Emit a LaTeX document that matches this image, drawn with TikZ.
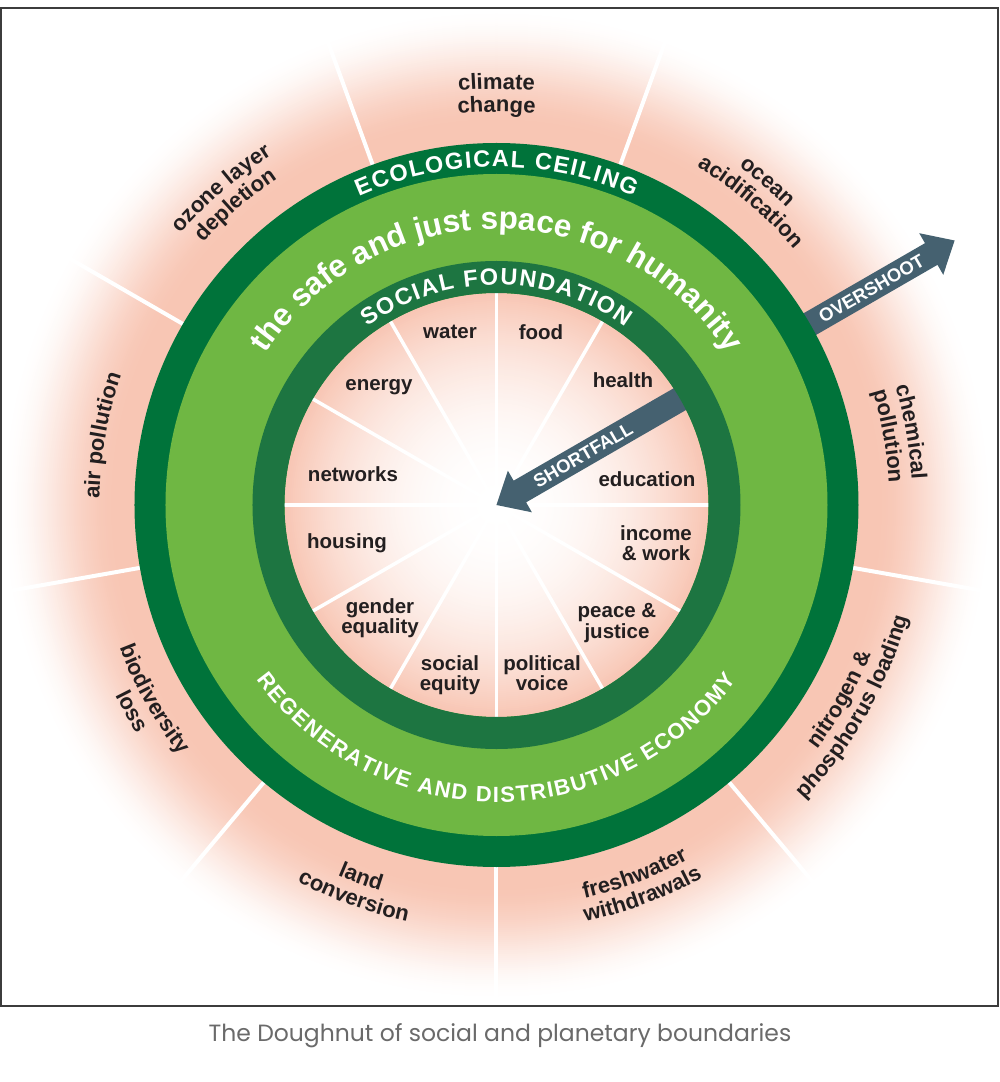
\documentclass[tikz,border=0pt]{standalone}
\usepackage{fontspec}
\setmainfont{Liberation Sans}
\newfontfamily\capfamily{Poppins}
\usetikzlibrary{decorations.text}
\definecolor{darkg}{HTML}{00733A}
\definecolor{lightg}{HTML}{6FB743}
\definecolor{socg}{HTML}{1D7541}
\definecolor{pinkc}{HTML}{F8C6B4}
\definecolor{arrowc}{HTML}{456170}
\definecolor{txtc}{HTML}{231F20}
\definecolor{capc}{HTML}{6A6A6A}
\definecolor{framec}{HTML}{3C3C3C}
\newcommand\olfont{\fontsize{22}{22}\selectfont\bfseries}
\newcommand\ilfont{\fontsize{20.5}{20.5}\selectfont\bfseries}
\newcommand\ringfont{\fontsize{23.5}{23.5}\selectfont\bfseries}
\newcommand\econfont{\fontsize{22}{22}\selectfont\bfseries}
\newcommand\bigfont{\fontsize{31.5}{31.5}\selectfont\bfseries}
\newcommand\arrfont{\fontsize{18.5}{18.5}\selectfont\bfseries}
\begin{document}
\begin{tikzpicture}[x=1pt,y=1pt,
  inlabel/.style={font=\ilfont, text=txtc, align=center, inner sep=0pt},
  arrtxt/.style={font=\arrfont, text=white, inner sep=0pt},
  arctext/.style={decorate, decoration={text along path, text align=center, text color=txtc, text={#1}}},
  ringtext/.style={decorate, decoration={text along path, text align=fit to path, text color=white, text={#1}}},
  spoke/.style={white, line width=4pt},
  arrowshape/.style={fill=arrowc, draw=none}]
\useasboundingbox (-496.5,-577) rectangle (503.5,505);
\fill[white] (-496.5,-577) rectangle (503.5,505);
% outer fade and spokes
\begin{scope}
\clip (-495.5,-501) rectangle (501.5,497);
\foreach \r in {497,495,...,363} {
  \pgfmathsetmacro\u{min(1,max(0,(497-\r)/117))}
  \pgfmathsetmacro\t{100*\u*\u*(3-2*\u)}
  \fill[pinkc!\t!white] (0,0) circle[radius=\r*1pt];
}
\foreach \a in {70,110,150,190,230,270,310,350}
  \draw[spoke] (\a:355pt) -- (\a:500pt);
\end{scope}
% overshoot arrow
\fill[arrowshape, rotate=30] (340,-12.5) -- (502,-12.5) -- (502,-24) -- (529,0) -- (502,24) -- (502,12.5) -- (340,12.5) -- cycle;
% rings
\fill[darkg] (0,0) circle[radius=362pt];
\fill[lightg] (0,0) circle[radius=331pt];
\foreach \r in {212,210,...,2} {
  \pgfmathsetmacro\t{100*(\r/212)^2.2}
  \fill[pinkc!\t!white] (0,0) circle[radius=\r*1pt];
}
\foreach \a in {0,30,...,330}
  \draw[white, line width=3.5pt] (0,0) -- (\a:213pt);
% shortfall arrow
\fill[arrowshape, rotate=30] (0,0) -- (27,-24) -- (27,-12.5) -- (235,-12.5) -- (235,12.5) -- (27,12.5) -- (27,24) -- cycle;
\fill[socg, even odd rule] (0,0) circle[radius=244pt] (0,0) circle[radius=212pt];
% ring texts
\path[ringtext={|\ringfont|ECOLOGICAL CEILING}] (114:338pt) arc[start angle=114, end angle=66, radius=338pt];
\path[ringtext={|\ringfont|SOCIAL FOUNDATION}] (126:220pt) arc[start angle=126, end angle=54, radius=220pt];
\path[ringtext={|\econfont|REGENERATIVE AND DISTRIBUTIVE ECONOMY}] (216:297pt) arc[start angle=216, end angle=324, radius=297pt];
\path[decorate, decoration={text along path, text align=center, text color=white, text={|\bigfont|the safe and just space for humanity}}] (165:276pt) arc[start angle=165, end angle=15, radius=276pt];
% planetary boundary labels (top half)
\path[arctext={|\olfont|climate}] (130:416pt) arc[start angle=130, end angle=50, radius=416pt];
\path[arctext={|\olfont|change}] (130:393pt) arc[start angle=130, end angle=50, radius=393pt];
\path[arctext={|\olfont|ocean}] (90:416pt) arc[start angle=90, end angle=10, radius=416pt];
\path[arctext={|\olfont|acidification}] (90:393pt) arc[start angle=90, end angle=10, radius=393pt];
\path[arctext={|\olfont|chemical}] (50:416pt) arc[start angle=50, end angle=-30, radius=416pt];
\path[arctext={|\olfont|pollution}] (50:393pt) arc[start angle=50, end angle=-30, radius=393pt];
\path[arctext={|\olfont|ozone layer}] (171:416pt) arc[start angle=171, end angle=91, radius=416pt];
\path[arctext={|\olfont|depletion}] (171:393pt) arc[start angle=171, end angle=91, radius=393pt];
\path[arctext={|\olfont|air pollution}] (210:397pt) arc[start angle=210, end angle=130, radius=397pt];
% bottom half
\path[arctext={|\olfont|nitrogen {\&}}] (290.5:403pt) arc[start angle=290.5, end angle=370.5, radius=403pt];
\path[arctext={|\olfont|phosphorus loading}] (290.5:426pt) arc[start angle=290.5, end angle=370.5, radius=426pt];
\path[arctext={|\olfont|freshwater}] (250.5:403pt) arc[start angle=250.5, end angle=330.5, radius=403pt];
\path[arctext={|\olfont|withdrawals}] (250.5:426pt) arc[start angle=250.5, end angle=330.5, radius=426pt];
\path[arctext={|\olfont|land}] (210:403pt) arc[start angle=210, end angle=290, radius=403pt];
\path[arctext={|\olfont|conversion}] (210:426pt) arc[start angle=210, end angle=290, radius=426pt];
\path[arctext={|\olfont|biodiversity}] (169.5:403pt) arc[start angle=169.5, end angle=249.5, radius=403pt];
\path[arctext={|\olfont|loss}] (169.5:426pt) arc[start angle=169.5, end angle=249.5, radius=426pt];
% social foundation labels
\node[inlabel] (water) at (-46.5,173) {water};
\node[inlabel] (food) at (44.5,173) {food};
\node[inlabel] (health) at (126.5,125) {health};
\node[inlabel] (education) at (150.5,26) {education};
\node[inlabel] (income) at (159.5,-38) {income\\\& work};
\node[inlabel] (peace) at (120.5,-118) {peace \&\\justice};
\node[inlabel] (political) at (45.5,-168) {political\\voice};
\node[inlabel] (equity) at (-46.5,-170) {social\\equity};
\node[inlabel] (gender) at (-116.5,-113) {gender\\equality};
\node[inlabel] (housing) at (-149.5,-38) {housing};
\node[inlabel] (networks) at (-143.5,31) {networks};
\node[inlabel] (energy) at (-117.5,118) {energy};
% arrow labels
\node[arrtxt, rotate=30] (overshoot) at (30:433pt) {OVERSHOOT};
\node[arrtxt, rotate=30] (shortfall) at (30:100pt) {SHORTFALL};
% frame and caption
\draw[framec, line width=1.5pt] (-495.5,-501) rectangle (501.5,497);
\node[font=\capfamily\fontsize{23.5}{23.5}\selectfont, text=capc, inner sep=0pt] (caption) at (3.5,-531) {The Doughnut of social and planetary boundaries};
\end{tikzpicture}
\end{document}
